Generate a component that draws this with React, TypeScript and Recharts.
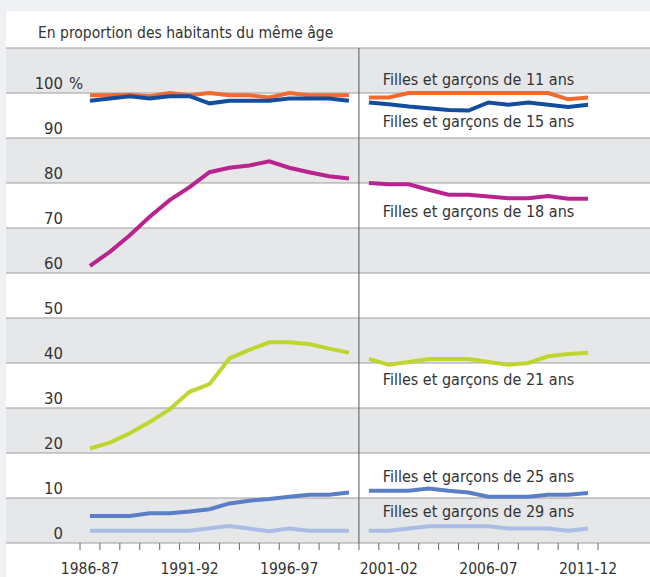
import { LineChart, Line, XAxis, YAxis, CartesianGrid, ReferenceLine, ReferenceDot } from 'recharts';

// Catégories (années scolaires)
const years = [
  '1986-87', '1987-88', '1988-89', '1989-90', '1990-91', '1991-92', '1992-93',
  '1993-94', '1994-95', '1995-96', '1996-97', '1997-98', '1998-99', '1999-00',
  '2000-01', '2001-02', '2002-03', '2003-04', '2004-05', '2005-06', '2006-07',
  '2007-08', '2008-09', '2009-10', '2010-11', '2011-12',
];

// index of the first year after the series break
const BREAK = 14;

const age11 = [99.5, 99.5, 99.6, 99.3, 100, 99.5, 100, 99.5, 99.5, 99.0, 100, 99.5, 99.5, 99.5,
  99.0, 99.0, 100, 100, 100, 100, 100, 100, 100, 100, 98.6, 99.0];
const age15 = [98.3, 98.8, 99.3, 98.8, 99.3, 99.3, 97.7, 98.3, 98.3, 98.3, 98.8, 98.8, 98.8, 98.3,
  97.9, 97.5, 97.0, 96.6, 96.2, 96.1, 97.9, 97.4, 97.9, 97.4, 96.9, 97.4];
const age18 = [61.6, 64.7, 68.4, 72.5, 76.2, 79.1, 82.4, 83.4, 83.9, 84.8, 83.4, 82.4, 81.5, 81.0,
  80.0, 79.7, 79.7, 78.5, 77.4, 77.4, 77.0, 76.6, 76.6, 77.1, 76.5, 76.5];
const age21 = [21.0, 22.3, 24.4, 26.9, 29.7, 33.6, 35.3, 41.0, 42.9, 44.6, 44.6, 44.2, 43.2, 42.3,
  40.9, 39.6, 40.2, 40.9, 40.9, 40.9, 40.2, 39.6, 40.0, 41.5, 42.0, 42.3];
const age25 = [6.0, 6.0, 6.0, 6.6, 6.6, 7.0, 7.5, 8.8, 9.4, 9.8, 10.3, 10.7, 10.7, 11.2,
  11.6, 11.6, 11.6, 12.1, 11.6, 11.2, 10.3, 10.3, 10.3, 10.7, 10.7, 11.1];
const age29 = [2.7, 2.7, 2.7, 2.7, 2.7, 2.7, 3.3, 3.8, 3.2, 2.6, 3.2, 2.7, 2.7, 2.7,
  2.7, 2.7, 3.2, 3.7, 3.7, 3.7, 3.7, 3.2, 3.2, 3.2, 2.7, 3.2];

const yTicks = [0, 10, 20, 30, 40, 50, 60, 70, 80, 90, 100, 110];

const series = [
  { key: 'a11', values: age11, color: '#f26a2e', label: 'Filles et garçons de 11 ans', labelAt: 103.0 },
  { key: 'a15', values: age15, color: '#144c9e', label: 'Filles et garçons de 15 ans', labelAt: 93.8 },
  { key: 'a18', values: age18, color: '#b8238f', label: 'Filles et garçons de 18 ans', labelAt: 73.8 },
  { key: 'a21', values: age21, color: '#c0d62f', label: 'Filles et garçons de 21 ans', labelAt: 36.3 },
  { key: 'a25', values: age25, color: '#5b7fc6', label: 'Filles et garçons de 25 ans', labelAt: 14.8 },
  { key: 'a29', values: age29, color: '#a9bde5', label: 'Filles et garçons de 29 ans', labelAt: 7.0 },
];

const FONT = "'DejaVu Sans Condensed', 'Roboto', sans-serif";
const TEXT = '#333333';

// two keys per series so the line breaks between 1999-00 and 2000-01
const data = years.map((year, i) => {
  const row: Record<string, string | number | null> = { year };
  series.forEach((s) => {
    row[`${s.key}L`] = i < BREAK ? s.values[i] : null;
    row[`${s.key}R`] = i >= BREAK ? s.values[i] : null;
  });
  return row;
});

function YearTick({ x, y, payload, index }: any) {
  const half = payload?.offset || 10;
  const last = index === years.length - 1;
  return (
    <g>
      <line x1={x - half} x2={x - half} y1={y} y2={y + 7} stroke="#666" strokeWidth={1} />
      {last && <line x1={x + half} x2={x + half} y1={y} y2={y + 7} stroke="#666" strokeWidth={1} />}
      {index % 5 === 0 && (
        <text x={x} y={y + 31} textAnchor="middle" fontFamily={FONT} fontSize={15.5} fill={TEXT}>
          {payload.value}
        </text>
      )}
    </g>
  );
}

function PctTick({ y, payload }: any) {
  if (payload.value > 100) return null;
  return (
    <g>
      <text x={63} y={y - 4} textAnchor="end" fontFamily={FONT} fontSize={16.5} fill={TEXT}>
        {payload.value}
      </text>
      {payload.value === 100 && (
        <text x={69} y={y - 4} textAnchor="start" fontFamily={FONT} fontSize={16.5} fill={TEXT}>
          %
        </text>
      )}
    </g>
  );
}

export default function App() {
  return (
    <div style={{ position: 'absolute', left: 0, top: 0, width: 650, height: 577, background: '#eff1f4' }}>
      <div style={{ position: 'absolute', left: 6, top: 11, right: 0, bottom: 0, background: '#ffffff' }} />
      <div
        style={{
          position: 'absolute',
          left: 38,
          top: 22,
          fontFamily: FONT,
          fontSize: 15.5,
          color: TEXT,
          lineHeight: '22px',
          whiteSpace: 'nowrap',
        }}
      >
        En proportion des habitants du même âge
      </div>
      <div style={{ position: 'absolute', left: 0, top: 0 }}>
        <LineChart width={650} height={577} data={data} margin={{ top: 48, right: 0, bottom: 0, left: 5 }}>
          <CartesianGrid
            vertical={false}
            stroke="#9d9d9d"
            strokeWidth={1.2}
            horizontalFill={['#e6e7e9', '#ffffff']}
            fillOpacity={1}
          />
          <XAxis
            dataKey="year"
            scale="band"
            height={34}
            padding={{ left: 74, right: 52 }}
            interval={0}
            tickSize={0}
            tickMargin={0}
            axisLine={false}
            tickLine={false}
            tick={<YearTick />}
          />
          <YAxis
            width={1}
            domain={[0, 110]}
            ticks={yTicks}
            interval={0}
            tickSize={0}
            tickMargin={0}
            axisLine={false}
            tickLine={false}
            tick={<PctTick />}
          />
          <ReferenceLine x="2000-01" position="start" stroke="#555" strokeWidth={1} ifOverflow="visible" />
          {series.map((s) => (
            <Line
              key={`${s.key}L`}
              dataKey={`${s.key}L`}
              type="linear"
              stroke={s.color}
              strokeWidth={4}
              dot={false}
              activeDot={false}
              isAnimationActive={false}
            />
          ))}
          {series.map((s) => (
            <Line
              key={`${s.key}R`}
              dataKey={`${s.key}R`}
              type="linear"
              stroke={s.color}
              strokeWidth={4}
              dot={false}
              activeDot={false}
              isAnimationActive={false}
            />
          ))}
          {series.map((s) => (
            <ReferenceDot
              key={`lab-${s.key}`}
              x="2001-02"
              y={s.labelAt}
              r={0}
              stroke="none"
              fill="none"
              ifOverflow="visible"
              label={{
                value: s.label,
                position: 'right',
                offset: -6,
                fontFamily: FONT,
                fontSize: 16,
                fill: TEXT,
              }}
            />
          ))}
        </LineChart>
      </div>
    </div>
  );
}
